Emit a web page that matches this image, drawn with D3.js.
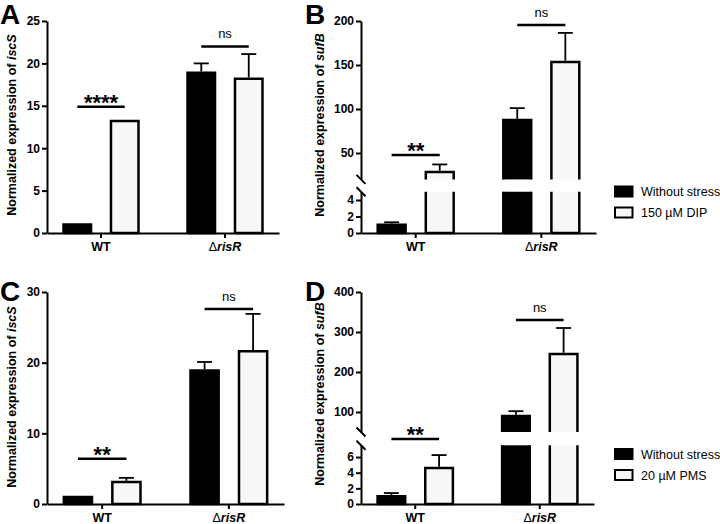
<!DOCTYPE html>
<html><head><meta charset="utf-8">
<script src="https://cdn.jsdelivr.net/npm/d3@7"></script>
<style>
body{margin:0;background:#fff}
svg{display:block}
text{font-family:"Liberation Sans",Arial,Helvetica,sans-serif;fill:#000}
</style>
</head><body>
<svg id="c" width="720" height="524"></svg>
<script>
// ---------- data ----------
const categories = ["WT", "ΔrisR"];
const seriesLabelsTop = ["Without stress", "150 µM DIP"];
const seriesLabelsBottom = ["Without stress", "20 µM PMS"];

// Panel A: iscS, DIP
const aNoStress = [1.0, 18.9];
const aNoStressErr = [0.05, 1.1];
const aDIP = [13.2, 18.2];
const aDIPErr = [0.15, 2.9];
const aTicks = [0, 5, 10, 15, 20, 25];

// Panel B: sufB, DIP (broken axis)
const bNoStress = [1.0, 87.5];
const bNoStressErr = [0.3, 13.5];
const bDIP = [28.4, 153.5];
const bDIPErr = [8.6, 33];
const bTicksLow = [0, 2, 4];
const bTicksHigh = [50, 100, 150, 200];

// Panel C: iscS, PMS
const cNoStress = [1.0, 18.9];
const cNoStressErr = [0.05, 1.2];
const cPMS = [3.1, 21.6];
const cPMSErr = [0.6, 5.3];
const cTicks = [0, 10, 20, 30];

// Panel D: sufB, PMS (broken axis)
const dNoStress = [1.0, 90];
const dNoStressErr = [0.4, 12];
const dPMS = [4.6, 245];
const dPMSErr = [1.65, 65];
const dTicksLow = [0, 2, 4, 6];
const dTicksHigh = [100, 200, 300, 400];

// significance labels [WT, ΔrisR] and bracket heights (data units)
const aSig = ["****", "ns"]; const aSigLevel = [14.9, 22.0];
const bSig = ["**", "ns"];   const bSigLevel = [47.7, 195.5];
const cSig = ["**", "ns"];   const cSigLevel = [6.4, 27.6];
const dSig = ["**", "ns"];   const dSigLevel = [32.5, 330];

// ---------- drawing ----------
const svg = d3.select("#c");
const FONT = "Liberation Sans, Arial, sans-serif";

function drawPanel(cfg) {
  const g = svg.append("g");
  const outer = d3.scaleBand().domain(categories).range([cfg.x0, cfg.x1])
    .paddingInner(0.3).paddingOuter(0.0855);
  const inner = d3.scaleBand().domain([0, 1]).range([0, outer.bandwidth()])
    .paddingInner(0.368).paddingOuter(0.098);

  const segs = cfg.segments.map(s => ({
    domain: s.domain, ticks: s.ticks,
    y: d3.scaleLinear().domain(s.domain).range(s.range)
  }));
  const segFor = v => segs.find(s => v <= s.domain[1]) || segs[segs.length - 1];

  // y axes (one per segment)
  segs.forEach((s, i) => {
    const ax = g.append("g").attr("transform", `translate(${cfg.x0},0)`)
      .call(d3.axisLeft(s.y).tickValues(s.ticks).tickFormat(d3.format("d"))
        .tickSize(5).tickSizeOuter(0).tickPadding(2));
    ax.select(".domain").attr("stroke", "#000").attr("stroke-width", 2);
    ax.selectAll(".tick line").attr("stroke", "#000").attr("stroke-width", 2);
    ax.selectAll(".tick text").attr("font-size", 12).attr("font-weight", "bold")
      .attr("font-family", FONT).attr("fill", "#000");
    if (segs.length > 1) {
      const yy = i === 0 ? s.y(s.domain[1]) : s.y(s.domain[0]);
      g.append("line").attr("x1", cfg.x0 - 4.5).attr("x2", cfg.x0 + 4.5)
        .attr("y1", yy - 4.5).attr("y2", yy + 4.5).attr("stroke", "#000").attr("stroke-width", 2);
    }
  });

  // x axis
  const baseY = segs[0].y(0);
  const xa = g.append("g").attr("transform", `translate(0,${baseY})`)
    .call(d3.axisBottom(outer).tickSize(5).tickSizeOuter(0).tickPadding(4));
  xa.select(".domain").attr("stroke", "#000").attr("stroke-width", 2);
  xa.selectAll(".tick line").attr("stroke", "#000").attr("stroke-width", 2);
  xa.selectAll(".tick text").each(function(d) {
    const t = d3.select(this).text(null)
      .attr("font-size", 12.5).attr("font-weight", "bold")
      .attr("font-family", FONT).attr("fill", "#000");
    if (d.startsWith("Δ")) {
      t.append("tspan").text("Δ").attr("font-weight", "normal");
      t.append("tspan").text(d.slice(1)).attr("font-style", "italic");
    } else t.text(d);
  });

  // bars
  const series = [
    {vals: cfg.s0, errs: cfg.e0, fill: "#000"},
    {vals: cfg.s1, errs: cfg.e1, fill: "#f7f7f7"}
  ];
  const sw = 2.5;
  series.forEach((ser, si) => {
    categories.forEach((cat, ci) => {
      const v = ser.vals[ci];
      const bx = outer(cat) + inner(si);
      const bw = inner.bandwidth();
      const xl = bx + sw / 2, xr = bx + bw - sw / 2;
      segs.forEach(s => {
        if (v <= s.domain[0]) return;
        const top = Math.min(v, s.domain[1]);
        const yB = s.y(s.domain[0]), yT = s.y(top);
        g.append("rect").attr("x", xl).attr("y", yT).attr("width", xr - xl).attr("height", yB - yT)
          .attr("fill", ser.fill);
        let p = `M${xl},${yB}L${xl},${yT}`;
        p += (v <= s.domain[1]) ? `L${xr},${yT}` : `M${xr},${yT}`;
        p += `L${xr},${yB}`;
        if (s.domain[0] === 0) p += `L${xl},${yB}`;
        g.append("path").attr("d", p).attr("fill", "none").attr("stroke", "#000")
          .attr("stroke-width", sw).attr("stroke-linejoin", "miter");
      });
      // error bar (upper only)
      const s = segFor(v);
      const cx = bx + bw / 2;
      const yv = s.y(v) - sw / 2, ye = s.y(v + ser.errs[ci]);
      if (yv - ye > 0.5) {
        g.append("line").attr("x1", cx).attr("x2", cx).attr("y1", yv).attr("y2", ye)
          .attr("stroke", "#000").attr("stroke-width", 1.8);
        g.append("line").attr("x1", cx - 7.5).attr("x2", cx + 7.5).attr("y1", ye).attr("y2", ye)
          .attr("stroke", "#000").attr("stroke-width", 1.8);
      }
    });
  });

  // significance brackets
  categories.forEach((cat, ci) => {
    const lvl = cfg.sigLevel[ci];
    const s = segFor(lvl);
    const yy = s.y(lvl);
    const xA = outer(cat) + inner(0) + inner.bandwidth() / 2;
    const xB = outer(cat) + inner(1) + inner.bandwidth() / 2;
    g.append("line").attr("x1", xA).attr("x2", xB).attr("y1", yy).attr("y2", yy)
      .attr("stroke", "#000").attr("stroke-width", 2.5);
    const lab = cfg.sig[ci];
    if (lab === "ns") {
      g.append("text").attr("x", (xA + xB) / 2).attr("y", yy - 8)
        .attr("text-anchor", "middle").attr("font-size", 13).text(lab);
    } else {
      g.append("text").attr("x", (xA + xB) / 2).attr("y", yy + 3)
        .attr("text-anchor", "middle").attr("font-size", 22).attr("font-weight", "bold").text(lab);
    }
  });

  // y title
  const yt = g.append("text")
    .attr("transform", `translate(${cfg.titleX},${cfg.titleY}) rotate(-90)`)
    .attr("text-anchor", "middle").attr("font-size", 12.5).attr("font-weight", "bold");
  yt.append("tspan").text("Normalized expression of ");
  yt.append("tspan").text(cfg.gene).attr("font-style", "italic");

  // panel letter
  g.append("text").attr("x", cfg.letterX).attr("y", cfg.letterY)
    .attr("font-size", 28).attr("font-weight", "bold").text(cfg.letter);

  // legend
  if (cfg.legend) {
    cfg.legend.labels.forEach((lab, i) => {
      const ly = cfg.legend.y + i * 21;
      g.append("rect").attr("x", 615).attr("y", ly).attr("width", 17.5).attr("height", 10)
        .attr("fill", i === 0 ? "#000" : "#f7f7f7").attr("stroke", "#000").attr("stroke-width", 2);
      g.append("text").attr("x", 641).attr("y", ly + 9.5).attr("font-size", 12.5).text(lab);
    });
  }
}

drawPanel({
  letter: "A", letterX: 0, letterY: 24, x0: 47, x1: 279,
  segments: [{domain: [0, 25], range: [233, 21], ticks: aTicks}],
  s0: aNoStress, e0: aNoStressErr, s1: aDIP, e1: aDIPErr,
  sig: aSig, sigLevel: aSigLevel, gene: "iscS", titleX: 16, titleY: 125
});
drawPanel({
  letter: "B", letterX: 305, letterY: 24, x0: 361, x1: 596,
  segments: [
    {domain: [0, 5], range: [233, 191.75], ticks: bTicksLow},
    {domain: [20, 200], range: [179.4, 21], ticks: bTicksHigh}
  ],
  s0: bNoStress, e0: bNoStressErr, s1: bDIP, e1: bDIPErr,
  sig: bSig, sigLevel: bSigLevel, gene: "sufB", titleX: 324, titleY: 125,
  legend: {labels: seriesLabelsTop, y: 186.5}
});
drawPanel({
  letter: "C", letterX: 0, letterY: 301, x0: 47, x1: 284,
  segments: [{domain: [0, 30], range: [504, 292], ticks: cTicks}],
  s0: cNoStress, e0: cNoStressErr, s1: cPMS, e1: cPMSErr,
  sig: cSig, sigLevel: cSigLevel, gene: "iscS", titleX: 16, titleY: 397
});
drawPanel({
  letter: "D", letterX: 305, letterY: 301, x0: 361, x1: 594,
  segments: [
    {domain: [0, 7.5], range: [504, 445.3], ticks: dTicksLow},
    {domain: [50, 400], range: [432, 292], ticks: dTicksHigh}
  ],
  s0: dNoStress, e0: dNoStressErr, s1: dPMS, e1: dPMSErr,
  sig: dSig, sigLevel: dSigLevel, gene: "sufB", titleX: 324, titleY: 394,
  legend: {labels: seriesLabelsBottom, y: 449}
});
</script>
</body></html>
